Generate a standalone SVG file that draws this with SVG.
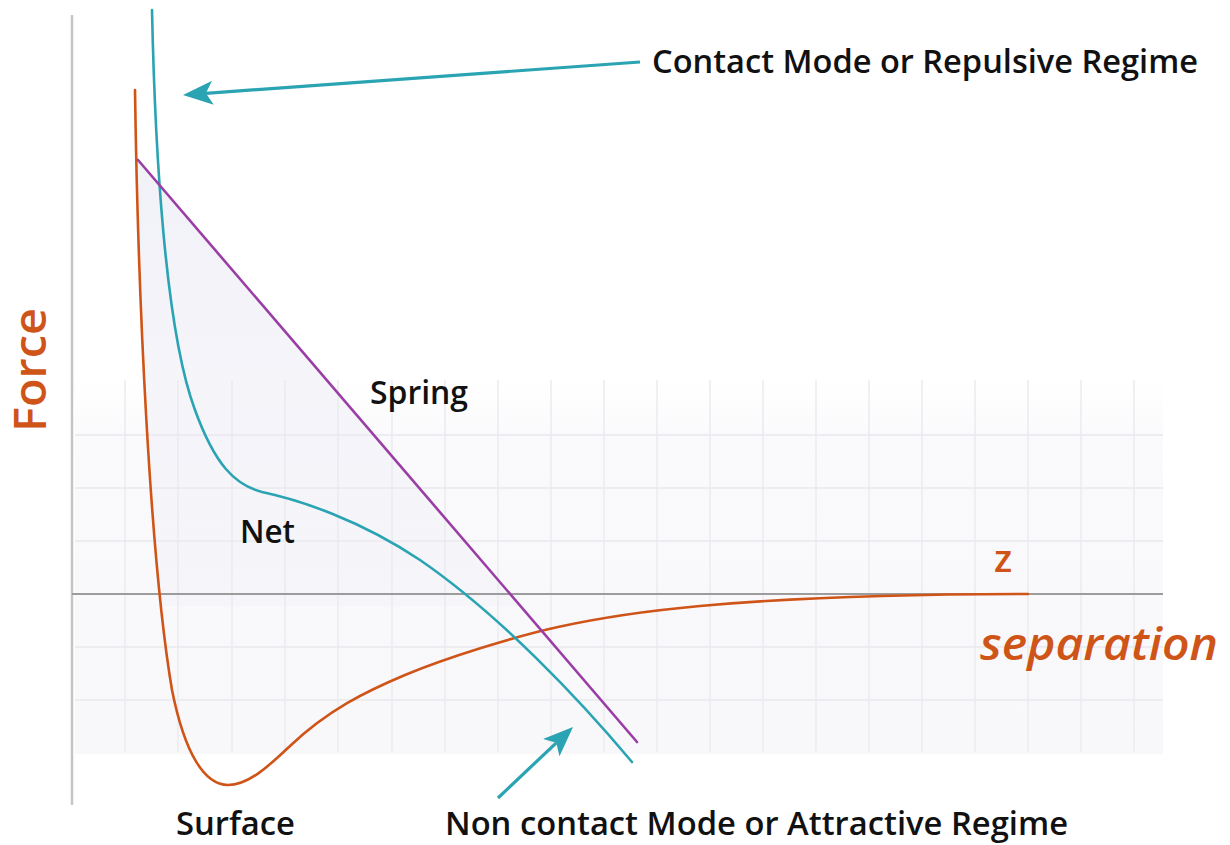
<svg xmlns="http://www.w3.org/2000/svg" width="1230" height="845" viewBox="0 0 1230 845">
<style>
  .grid line { stroke: #e8e8ee; stroke-width: 1.3; }
  .lbl { font-family: "Open Sans", "Liberation Sans", sans-serif; font-weight: 600; fill: #111; font-size: 32px; }
  .or { font-family: "Open Sans", "Liberation Sans", sans-serif; font-weight: 600; fill: #cf5418; }
  .curve { fill: none; stroke-width: 2.6; stroke-linecap: round; stroke-linejoin: round; }
  .arrow { stroke: #2aa3b3; stroke-width: 3.2; fill: none; }
</style>
<defs>
  <linearGradient id="gridfade" x1="0" y1="0" x2="0" y2="1">
    <stop offset="0" stop-color="#fbfbfd" stop-opacity="0"/>
    <stop offset="0.15" stop-color="#fafafc" stop-opacity="1"/>
    <stop offset="1" stop-color="#f8f8fb" stop-opacity="1"/>
  </linearGradient>
  <linearGradient id="shade" x1="0" y1="0" x2="0" y2="1">
    <stop offset="0" stop-color="#f1f1f8" stop-opacity="1"/>
    <stop offset="1" stop-color="#f3f3f9" stop-opacity="0.6"/>
  </linearGradient>
  <marker id="ah" viewBox="0 0 30 24" refX="7" refY="12" markerWidth="30" markerHeight="24" markerUnits="userSpaceOnUse" orient="auto">
    <path d="M0,0 L30,12 L0,24 L7,12 Z" fill="#2aa3b3"/>
  </marker>
</defs>
<rect width="1230" height="845" fill="#ffffff"/>

<g id="grid-background">
  <rect x="75" y="380" width="1088" height="374" fill="url(#gridfade)"/>
</g>

<g id="shading">
  <path d="M138,160 L520,606 L160,606 C150,450 140,300 138,160 Z" fill="url(#shade)"/>
</g>

<g id="grid" class="grid">
  <line x1="125" y1="380" x2="125" y2="752"/>
  <line x1="178" y1="380" x2="178" y2="752"/>
  <line x1="232" y1="380" x2="232" y2="752"/>
  <line x1="285" y1="380" x2="285" y2="752"/>
  <line x1="338" y1="380" x2="338" y2="752"/>
  <line x1="392" y1="380" x2="392" y2="752"/>
  <line x1="445" y1="380" x2="445" y2="752"/>
  <line x1="498" y1="380" x2="498" y2="752"/>
  <line x1="551" y1="380" x2="551" y2="752"/>
  <line x1="604" y1="380" x2="604" y2="752"/>
  <line x1="657" y1="380" x2="657" y2="752"/>
  <line x1="710" y1="380" x2="710" y2="752"/>
  <line x1="763" y1="380" x2="763" y2="752"/>
  <line x1="816" y1="380" x2="816" y2="752"/>
  <line x1="869" y1="380" x2="869" y2="752"/>
  <line x1="922" y1="380" x2="922" y2="752"/>
  <line x1="975" y1="380" x2="975" y2="752"/>
  <line x1="1028" y1="380" x2="1028" y2="752"/>
  <line x1="1081" y1="380" x2="1081" y2="752"/>
  <line x1="1134" y1="380" x2="1134" y2="752"/>
  <line x1="75" y1="435" x2="1163" y2="435"/>
  <line x1="75" y1="488" x2="1163" y2="488"/>
  <line x1="75" y1="541" x2="1163" y2="541"/>
  <line x1="75" y1="647" x2="1163" y2="647"/>
  <line x1="75" y1="700" x2="1163" y2="700"/>
</g>

<g id="axes">
  <line x1="72" y1="15" x2="72" y2="805" stroke="#c4c4c4" stroke-width="2.5"/>
  <line x1="72" y1="594" x2="1163" y2="594" stroke="#9c9c9c" stroke-width="2"/>
</g>

<g id="surface-curve">
  <path class="curve" stroke="#cf5418" d="M135,90 C138,300 150,560 172,690 C185,755 205,785 228,785 C248.7,785 269.3,765.6 290,746 C328.3,709.6 366.7,691.1 405,675 C430.3,664.4 455.7,655.9 481,648 C506.7,640 532.3,632.6 558,627 C605.3,616.6 652.7,610.3 700,606 C809.3,596.2 918.7,594 1028,594"/>
</g>
<g id="net-curve">
  <path class="curve" stroke="#2aa3b3" d="M152,10 C155,150 165,330 195,410 C215,465 235,485 262,492 C300,500 360,520 420,560 C500,615 580,700 632,762"/>
</g>
<g id="spring-line">
  <line class="curve" stroke="#9a3ea6" x1="138" y1="160" x2="637" y2="742"/>
</g>

<g id="connectors">
  <line class="arrow" x1="640" y1="62" x2="205.9" y2="93.3" marker-end="url(#ah)"/>
  <line class="arrow" x1="498" y1="798" x2="556.3" y2="742.8" marker-end="url(#ah)"/>
</g>

<g id="label-contact"><text class="lbl" x="652" y="73" textLength="546" lengthAdjust="spacingAndGlyphs">Contact Mode or Repulsive Regime</text></g>
<g id="label-noncontact"><text class="lbl" x="445" y="835" textLength="623" lengthAdjust="spacingAndGlyphs">Non contact Mode or Attractive Regime</text></g>
<g id="label-surface"><text class="lbl" x="176" y="835" textLength="119" lengthAdjust="spacingAndGlyphs">Surface</text></g>
<g id="label-spring"><text class="lbl" x="370" y="404" textLength="98" lengthAdjust="spacingAndGlyphs">Spring</text></g>
<g id="label-net"><text class="lbl" x="240" y="543" textLength="55" lengthAdjust="spacingAndGlyphs">Net</text></g>
<g id="label-force"><text class="or" transform="translate(46,432) rotate(-90)" font-size="45" textLength="124" lengthAdjust="spacingAndGlyphs">Force</text></g>
<g id="label-z"><text class="or" x="994" y="572" font-size="38">z</text></g>
<g id="label-separation"><text class="or" x="980" y="660" font-size="46" font-style="italic" textLength="238" lengthAdjust="spacingAndGlyphs">separation</text></g>
</svg>
